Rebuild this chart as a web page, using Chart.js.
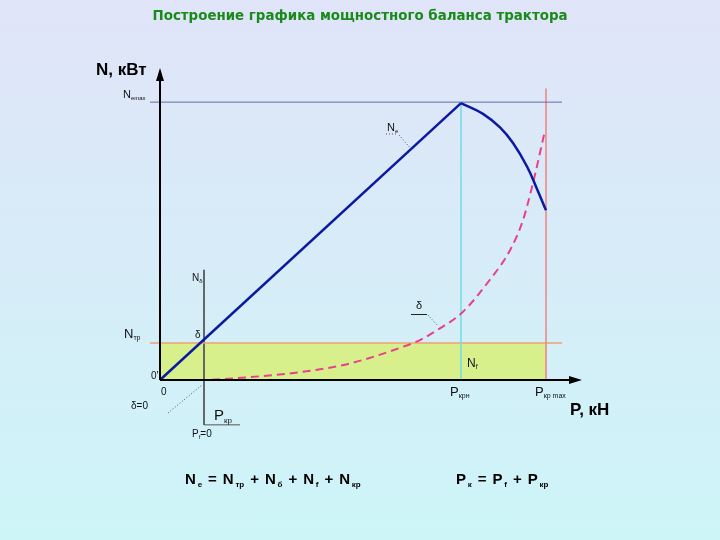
<!DOCTYPE html>
<html>
<head>
<meta charset="utf-8">
<script src="https://cdn.jsdelivr.net/npm/chart.js@4.4.1/dist/chart.umd.min.js"></script>
<style>
  html, body { margin: 0; padding: 0; }
  body { width: 720px; height: 540px; background: linear-gradient(#e0e4f8, #cdf5f8); }
  canvas { display: block; }
</style>
</head>
<body>
<canvas id="myChart" width="720" height="540"></canvas>
<script>
/* DATA (P in kN along x, N in kW along y) */
const neLineX = [0, 30.1];
const neLineY = [0, 28.4];
const neCurveX = [30.1, 32.3, 34, 35.3, 36.7, 37.7, 38.6];
const neCurveY = [28.4, 27.3, 25.9, 24.3, 21.9, 19.6, 17.4];
const deltaX = [0, 4, 9, 14, 19, 24, 26, 28, 30.2, 33, 35, 36.3, 37.3, 38.5];
const deltaY = [0, 0, 0.3, 0.8, 1.7, 3.3, 4.1, 5.3, 6.9, 10.3, 13.3, 16.4, 20.2, 25.6];
const nEmax = 28.5;
const nTr = 3.8;
const pKrN = 30.1;
const pKrMax = 38.6;
const nDeltaAxisX = 4.4;
const nDeltaAxisY = [11.3, -4.6];
const pKrAxisX = [4.4, 8];
const guideX = [-1, 40.2];

function pts(xs, ys) {
  return xs.map((x, i) => ({ x: x, y: ys[i] }));
}

const FONT = '"Liberation Sans", Arial, sans-serif';

/* TEXT WITH SUBSCRIPTS */
function rich(ctx, x, y, parts, size, bold, gap) {
  let cx = x;
  parts.forEach(p => {
    let isSub = p[1];
    let s = isSub ? Math.round(size * 0.55) : size;
    ctx.font = (bold ? 'bold ' : '') + s + 'px ' + FONT;
    ctx.fillText(p[0], cx, isSub ? y + size * 0.18 : y);
    cx += ctx.measureText(p[0]).width + (gap || 0);
  });
  return cx;
}

function arrow(ctx, x, y, dir) {
  ctx.beginPath();
  if (dir === 'up') {
    ctx.moveTo(x, y); ctx.lineTo(x - 4, y + 13); ctx.lineTo(x + 4, y + 13);
  } else {
    ctx.moveTo(x, y); ctx.lineTo(x - 13, y - 4); ctx.lineTo(x - 13, y + 4);
  }
  ctx.closePath();
  ctx.fill();
}

function dotted(ctx, x1, y1, x2, y2) {
  ctx.save();
  ctx.strokeStyle = '#555';
  ctx.lineWidth = 1;
  ctx.setLineDash([1, 2]);
  ctx.beginPath(); ctx.moveTo(x1, y1); ctx.lineTo(x2, y2); ctx.stroke();
  ctx.restore();
}

const decor = {
  id: 'decor',
  afterDatasetsDraw(chart) {
    const ctx = chart.ctx;
    const xs = chart.scales.x, ys = chart.scales.y;
    const x0 = xs.getPixelForValue(0), y0 = ys.getPixelForValue(0);
    const a = chart.chartArea;
    ctx.save();
    // main axes
    ctx.strokeStyle = '#000';
    ctx.fillStyle = '#000';
    ctx.lineWidth = 2;
    ctx.beginPath();
    ctx.moveTo(x0, y0); ctx.lineTo(x0, a.top + 8);
    ctx.moveTo(x0, y0); ctx.lineTo(a.right - 6, y0);
    ctx.stroke();
    arrow(ctx, x0, a.top, 'up');
    arrow(ctx, a.right + 2, y0, 'right');

    // title
    ctx.textBaseline = 'alphabetic';
    ctx.fillStyle = '#1a8a1a';
    ctx.font = 'bold 13.4px "DejaVu Sans", Verdana, sans-serif';
    ctx.textAlign = 'center';
    ctx.fillText('Построение графика мощностного баланса трактора', 360, 20);
    ctx.textAlign = 'left';

    // axis titles
    ctx.fillStyle = '#000';
    ctx.font = 'bold 17px ' + FONT;
    ctx.fillText('N, кВт', 96, 75);
    ctx.fillText('P, кН', 570, 415);

    // small labels
    ctx.fillStyle = '#111';
    rich(ctx, 123, 98, [['N', 0], ['emax', 1]], 11, false);
    rich(ctx, 124, 338, [['N', 0], ['тр', 1]], 13, false);
    rich(ctx, 192, 281, [['N', 0], ['δ', 1]], 10, false);
    ctx.font = '10px ' + FONT;
    ctx.fillText('δ', 195, 338);
    ctx.fillText('0\'', 151, 379);
    ctx.fillText('0', 161, 395);
    ctx.fillText('δ=0', 131, 409);
    rich(ctx, 192, 437, [['P', 0], ['f', 1], ['=0', 0]], 10, false);
    rich(ctx, 214, 420, [['P', 0], ['кр', 1]], 15, false);
    dotted(ctx, 168, 413, 202, 385);

    // Ne label with leader
    rich(ctx, 387, 131, [['N', 0], ['e', 1]], 11, false);
    dotted(ctx, 386, 134, 398, 134);
    dotted(ctx, 399, 135, 412, 150);
    // delta label with leader
    ctx.font = '11px ' + FONT;
    ctx.fillText('δ', 416, 309);
    ctx.strokeStyle = '#222';
    ctx.lineWidth = 1;
    ctx.beginPath(); ctx.moveTo(411, 314.5); ctx.lineTo(427, 314.5); ctx.stroke();
    dotted(ctx, 428, 315, 438, 326);

    // Nf, P labels
    rich(ctx, 467, 367, [['N', 0], ['f', 1]], 12, false);
    const pn = xs.getPixelForValue(pKrN), pm = xs.getPixelForValue(pKrMax);
    rich(ctx, pn - 11, 396, [['P', 0], ['крн', 1]], 13, false);
    rich(ctx, pm - 11, 396, [['P', 0], ['кр max', 1]], 13, false);

    // formulas
    ctx.fillStyle = '#000';
    rich(ctx, 185, 484, [['N', 0], ['е', 1], [' = ', 0], ['N', 0], ['тр', 1], [' + ', 0], ['N', 0], ['б', 1], [' + ', 0], ['N', 0], ['f', 1], [' + ', 0], ['N', 0], ['кр', 1]], 15, true, 1.8);
    rich(ctx, 456, 484, [['P', 0], ['к', 1], [' = ', 0], ['P', 0], ['f', 1], [' + ', 0], ['P', 0], ['кр', 1]], 15, true, 1.8);
    ctx.restore();
  }
};

const ctx = document.getElementById('myChart').getContext('2d');
const myChart = new Chart(ctx, {
  type: 'line',
  data: {
    datasets: [
      { data: pts(neLineX, neLineY), borderColor: '#0c1aa0', borderWidth: 2.5, order: 1 },
      { data: pts(neCurveX, neCurveY), borderColor: '#0c1aa0', borderWidth: 2.5, tension: 0.4, order: 1 },
      { data: pts(deltaX, deltaY), borderColor: '#e8408a', borderWidth: 2, borderDash: [8, 5], cubicInterpolationMode: 'monotone', order: 2 },
      { data: pts(guideX, [nEmax, nEmax]), borderColor: '#6a6aa0', borderWidth: 1, order: 3 },
      { data: pts([pKrN, pKrN], [0, nEmax]), borderColor: '#70dde8', borderWidth: 1.5, order: 3 },
      { data: pts([pKrMax, pKrMax], [0, 29.9]), borderColor: '#f08080', borderWidth: 1.5, order: 3 },
      { data: pts(guideX, [nTr, nTr]), borderColor: '#f0a070', borderWidth: 1.5, order: 3 },
      { data: pts([nDeltaAxisX, nDeltaAxisX], nDeltaAxisY), borderColor: '#555', borderWidth: 1, order: 3 },
      { data: pts(pKrAxisX, [nDeltaAxisY[1], nDeltaAxisY[1]]), borderColor: '#555', borderWidth: 1, order: 3 },
      { data: pts([0, pKrMax], [nTr, nTr]), borderColor: 'rgba(0,0,0,0)', borderWidth: 0, backgroundColor: '#d8f08c', fill: 'origin', order: 9 }
    ]
  },
  options: {
    responsive: false,
    animation: false,
    clip: false,
    layout: { padding: { left: 160, right: 140, top: 68, bottom: 160 } },
    elements: { point: { radius: 0 }, line: { tension: 0 } },
    scales: {
      x: { type: 'linear', min: 0, max: 42, display: false },
      y: { type: 'linear', min: 0, max: 32, display: false }
    },
    plugins: { legend: { display: false }, tooltip: { enabled: false } }
  },
  plugins: [decor]
});
</script>
</body>
</html>
